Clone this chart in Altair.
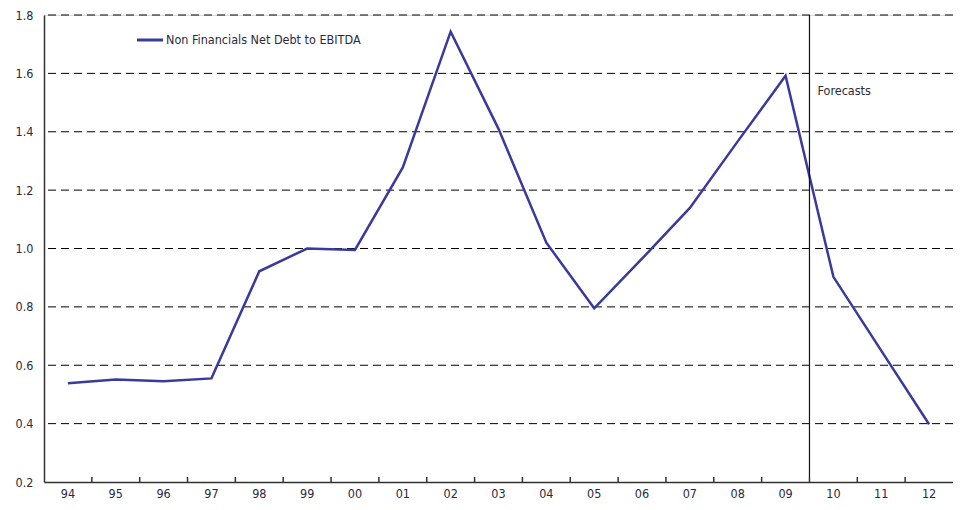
import altair as alt
import pandas as pd

years = ["94", "95", "96", "97", "98", "99", "00", "01", "02", "03",
         "04", "05", "06", "07", "08", "09", "10", "11", "12"]
values = [0.538, 0.551, 0.545, 0.555, 0.922, 1.0, 0.995, 1.278, 1.743, 1.41,
          1.02, 0.795, 0.965, 1.139, 1.367, 1.592, 0.903, 0.65, 0.398]
series_name = "Non Financials Net Debt to EBITDA"
forecast_start = "10"
forecast_label = "Forecasts"
y_ticks = [0.2, 0.4, 0.6, 0.8, 1.0, 1.2, 1.4, 1.6, 1.8]
grid_values = [0.4, 0.6, 0.8, 1.0, 1.2, 1.4, 1.6, 1.8]

FONT = "Liberation Sans Narrow, DejaVu Sans Condensed, sans-serif"
LINE = "#3a3a9c"
W, H = 909, 467

df = pd.DataFrame({"year": years, "value": values})
xscale = alt.Scale(type="band", domain=years, paddingInner=0, paddingOuter=0)
yscale = alt.Scale(domain=[0.2, 1.8], nice=False, zero=False)

base = alt.Chart(df)

grid = alt.Chart(pd.DataFrame({"g": grid_values})).mark_rule(
    color="#000", strokeWidth=1, strokeDash=[8, 5]
).encode(y=alt.Y("g:Q", scale=yscale))

line = base.mark_line(color=LINE, strokeWidth=2.5).encode(
    x=alt.X("year:N", scale=xscale, sort=years,
            axis=alt.Axis(title=None, ticks=False, labelAngle=0, labelPadding=5,
                          labelFont=FONT, labelFontSize=12.5, labelColor="#2a2a40",
                          domainColor="#333", domainWidth=1.5)),
    y=alt.Y("value:Q", scale=yscale,
            axis=alt.Axis(title=None, ticks=False, values=y_ticks, format=".1f",
                          labelPadding=11, labelFont=FONT, labelFontSize=12.5,
                          labelColor="#2a2a40", domainColor="#333", domainWidth=1.5,
                          grid=False)),
)

xticks = alt.Chart(pd.DataFrame({"year": years[1:]})).mark_rule(
    color="#333", strokeWidth=1.5
).encode(
    x=alt.X("year:N", scale=xscale, bandPosition=0),
    y=alt.value(H - 5), y2=alt.value(H),
)

vline = alt.Chart(pd.DataFrame({"year": [forecast_start]})).mark_rule(
    color="#111", strokeWidth=1.2
).encode(
    x=alt.X("year:N", scale=xscale, bandPosition=0),
    y=alt.value(0), y2=alt.value(H - 5),
)

ftext = alt.Chart(pd.DataFrame({"year": [forecast_start], "v": [1.54], "t": [forecast_label]})).mark_text(
    align="left", baseline="middle", dx=8, font=FONT, fontSize=12.5, color="#2a2a40"
).encode(
    x=alt.X("year:N", scale=xscale, bandPosition=0),
    y=alt.Y("v:Q", scale=yscale),
    text="t:N",
)

leg_line = alt.Chart(pd.DataFrame({"a": [0]})).mark_rule(color=LINE, strokeWidth=3).encode(
    x=alt.value(93), x2=alt.value(119), y=alt.value(25)
)
leg_text = alt.Chart(pd.DataFrame({"t": [series_name]})).mark_text(
    align="left", baseline="middle", font=FONT, fontSize=12.5, color="#2a2a40"
).encode(x=alt.value(122), y=alt.value(25), text="t:N")

chart = alt.layer(grid, line, xticks, vline, ftext, leg_line, leg_text).properties(
    width=W, height=H,
    autosize=alt.AutoSizeParams(type="none"),
    padding={"left": 36, "top": 7, "right": 0, "bottom": 20},
).configure_view(stroke=None).configure(background="white")

chart.save("out.html", embed_options={"renderer": "svg", "actions": False})
